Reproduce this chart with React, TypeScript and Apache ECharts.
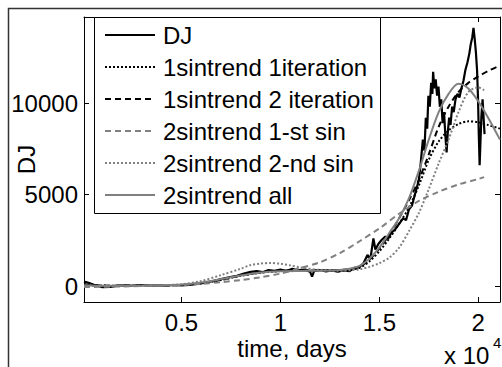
import React, { useEffect, useRef } from "react";
import * as echarts from "echarts";

const djDays = [70, 300, 600, 1000, 1400, 1800, 2200, 2600, 3000, 3400, 3800, 4200, 4600, 5000, 5400, 5800, 6200, 6600, 7000, 7400, 7800, 8200, 8500, 8800, 9100, 9400, 9700, 10000, 10300, 10600, 10900, 11200, 11500, 11600, 11700, 12000, 12300, 12600, 12900, 13200, 13500, 13700, 14000, 14200, 14400, 14550, 14700, 14800, 14950, 15100, 15300, 15450, 15600, 15800, 16000, 16200, 16350, 16500, 16650, 16800, 16950, 17000, 17100, 17200, 17280, 17350, 17420, 17480, 17550, 17620, 17680, 17720, 17780, 17850, 17920, 17990, 18060, 18130, 18200, 18270, 18340, 18400, 18460, 18530, 18600, 18680, 18760, 18850, 18950, 19050, 19150, 19250, 19350, 19450, 19550, 19620, 19700, 19760, 19820, 19880, 19940, 19990, 20030, 20070, 20110, 20160, 20220, 20280, 20320];
const djValues = [250, 180, 60, -60, -40, 20, 40, 10, 60, 30, 50, 20, 60, 40, 60, 120, 180, 280, 380, 480, 560, 700, 780, 820, 760, 880, 830, 900, 820, 940, 860, 900, 780, 520, 820, 880, 800, 860, 780, 850, 820, 980, 1050, 1250, 1700, 1500, 2600, 2000, 2300, 2500, 2700, 2600, 2900, 3100, 3400, 3700, 3600, 4200, 4400, 5000, 5600, 5800, 6800, 8000, 7400, 9200, 8600, 10400, 9800, 11100, 10500, 11700, 10800, 11300, 10400, 10900, 9800, 10200, 8900, 9500, 8200, 7300, 8400, 9200, 8800, 9800, 9500, 10200, 10500, 10300, 10800, 11200, 11800, 12200, 12700, 13200, 13600, 14100, 13500, 12800, 11800, 10200, 8200, 6600, 7800, 9300, 10200, 9000, 8300];

const trendDays = [70, 1000, 2000, 3000, 4000, 5000, 6000, 7000, 8000, 9000, 10000, 11000, 12000, 13000, 13500, 14000, 14500, 15000, 15500, 16000, 16500, 17000, 17500, 18000, 18500, 19000, 19500, 20000, 20500, 21100];
const iter1Values = [100, 30, 20, 30, 40, 60, 150, 330, 560, 730, 820, 850, 860, 870, 900, 1000, 1350, 1900, 2600, 3400, 4300, 5500, 6900, 7900, 8500, 8850, 9000, 8950, 8800, 8600];
const iter2Values = [100, 30, 20, 30, 40, 60, 160, 350, 580, 750, 830, 860, 870, 880, 920, 1050, 1450, 2050, 2800, 3700, 4700, 5800, 7200, 8700, 9800, 10600, 11100, 11450, 11750, 12050];
const allValues = [50, 20, 20, 30, 50, 90, 200, 380, 580, 740, 810, 830, 840, 880, 950, 1100, 1500, 2100, 2900, 3700, 4800, 6300, 8000, 9500, 10500, 11050, 10800, 10100, 9200, 8000];

const sin1Days = [70, 1000, 2000, 3000, 4000, 5000, 6000, 7000, 8000, 9000, 10000, 11000, 12000, 13000, 14000, 15000, 16000, 17000, 18000, 19000, 20000, 20300];
const sin1Values = [-50, -40, -20, 0, 30, 60, 120, 210, 330, 480, 680, 980, 1300, 1800, 2450, 3150, 3950, 4650, 5150, 5550, 5850, 5950];

const sin2Days = [70, 1000, 2000, 3000, 4000, 5000, 6000, 7000, 8000, 8500, 9000, 9500, 10000, 10500, 11000, 12000, 13000, 13500, 14000, 14500, 15000, 15500, 16000, 16500, 17000, 17500, 18000, 18500, 19000, 19500, 20000, 20300];
const sin2Values = [0, 0, 0, 10, 40, 100, 280, 600, 950, 1150, 1230, 1260, 1220, 1130, 1020, 880, 840, 860, 920, 1050, 1250, 1550, 2100, 3000, 4000, 5300, 6700, 8000, 9500, 10600, 10850, 10700];

const seriesNames = ["DJ", "1sintrend 1iteration", "1sintrend 2 iteration", "2sintrend 1-st sin", "2sintrend 2-nd sin", "2sintrend all"];
const xTicks = [5000, 10000, 15000, 20000];
const yTicks = [0, 5000, 10000];

const pairs = (xs: number[], ys: number[]) => xs.map((x, i) => [x, ys[i]]);

const FONT = "Liberation Sans, Arial, Helvetica, sans-serif";
const FS = 24;
const GRAY = "#808080";

export default function App() {
  const ref = useRef<HTMLDivElement>(null);
  useEffect(() => {
    if (!ref.current) return;
    const chart = echarts.init(ref.current, undefined, { renderer: "svg" });
    const baseX = {
      type: "value" as const,
      min: 70,
      max: 21100,
      splitLine: { show: false },
      axisLine: { show: true, onZero: false, lineStyle: { color: "#000", width: 1 } },
    };
    const baseY = {
      type: "value" as const,
      min: -870,
      max: 14700,
      splitLine: { show: false },
      axisLine: { show: true, onZero: false, lineStyle: { color: "#000", width: 1 } },
    };
    const line = (name: string, data: number[][], color: string, type: any, width: number, smooth: boolean) => ({
      name,
      type: "line",
      data,
      symbol: "none",
      smooth: smooth ? 0.3 : false,
      lineStyle: { color, type, width, cap: "butt" },
      itemStyle: { color },
      xAxisIndex: 0,
      yAxisIndex: 0,
    });
    chart.setOption({
      animation: false,
      backgroundColor: "#fff",
      grid: { left: 84, right: 2, top: 17, bottom: 65, containLabel: false, outerBoundsMode: "none" },
      xAxis: [
        {
          ...baseX,
          position: "bottom",
          name: "time, days",
          nameLocation: "middle",
          nameGap: 34,
          nameMoveOverlap: false,
          nameTextStyle: { color: "#000", fontSize: FS, fontFamily: FONT },
          axisTick: { show: true, inside: true, length: 5, customValues: xTicks, lineStyle: { color: "#000" } },
          axisLabel: {
            show: true,
            customValues: xTicks,
            margin: 8,
            color: "#000",
            fontSize: FS,
            fontFamily: FONT,
            formatter: (v: number) => String(v / 10000),
          },
        },
        {
          ...baseX,
          position: "top",
          axisTick: { show: true, inside: true, length: 5, customValues: xTicks, lineStyle: { color: "#000" } },
          axisLabel: { show: false },
        },
      ],
      yAxis: [
        {
          ...baseY,
          position: "left",
          name: "DJ",
          nameLocation: "middle",
          nameGap: 46,
          nameMoveOverlap: false,
          nameTextStyle: { color: "#000", fontSize: FS, fontFamily: FONT },
          axisTick: { show: true, inside: true, length: 5, customValues: yTicks, lineStyle: { color: "#000" } },
          axisLabel: {
            show: true,
            customValues: yTicks,
            margin: 6,
            color: "#000",
            fontSize: FS,
            fontFamily: FONT,
            formatter: (v: number) => String(v),
          },
        },
        {
          ...baseY,
          position: "right",
          axisTick: { show: true, inside: true, length: 5, customValues: yTicks, lineStyle: { color: "#000" } },
          axisLabel: { show: false },
        },
      ],
      legend: {
        data: seriesNames,
        orient: "vertical",
        left: 104,
        top: 23,
        padding: 0,
        itemWidth: 50,
        itemHeight: 2,
        itemGap: 8,
        z: 10,
        itemStyle: { opacity: 0 },
        textStyle: { color: "#000", fontSize: FS, fontFamily: FONT, lineHeight: 24, padding: [0, 0, 0, 3] },
      },
      graphic: [
        {
          type: "rect",
          shape: { x: 8.5, y: 8.5, width: 700, height: 700 },
          style: { fill: "none", stroke: "#333", lineWidth: 1.5 },
          silent: true,
          z: 1,
        },
        {
          type: "rect",
          shape: { x: 94.5, y: 17.5, width: 286, height: 196 },
          style: { fill: "#fff", stroke: "#000", lineWidth: 1 },
          silent: true,
          z: 5,
        },
        {
          type: "text",
          x: 444,
          y: 343,
          style: { text: "x 10", fill: "#000", fontSize: FS, fontFamily: FONT },
          z: 5,
        },
        {
          type: "text",
          x: 493,
          y: 335,
          style: { text: "4", fill: "#000", fontSize: 15, fontFamily: FONT },
          z: 5,
        },
      ],
      series: [
        line(seriesNames[0], pairs(djDays, djValues), "#000", "solid", 2.2, false),
        line(seriesNames[1], pairs(trendDays, iter1Values), "#000", [2, 2], 2, true),
        line(seriesNames[2], pairs(trendDays, iter2Values), "#000", [6, 4], 2, true),
        line(seriesNames[3], pairs(sin1Days, sin1Values), GRAY, [6, 4], 2, true),
        line(seriesNames[4], pairs(sin2Days, sin2Values), GRAY, [2, 2], 2, true),
        line(seriesNames[5], pairs(trendDays, allValues), GRAY, "solid", 2, true),
      ],
    });
    return () => chart.dispose();
  }, []);
  return <div ref={ref} style={{ position: "absolute", left: 0, top: 0, width: 502, height: 367 }} />;
}
